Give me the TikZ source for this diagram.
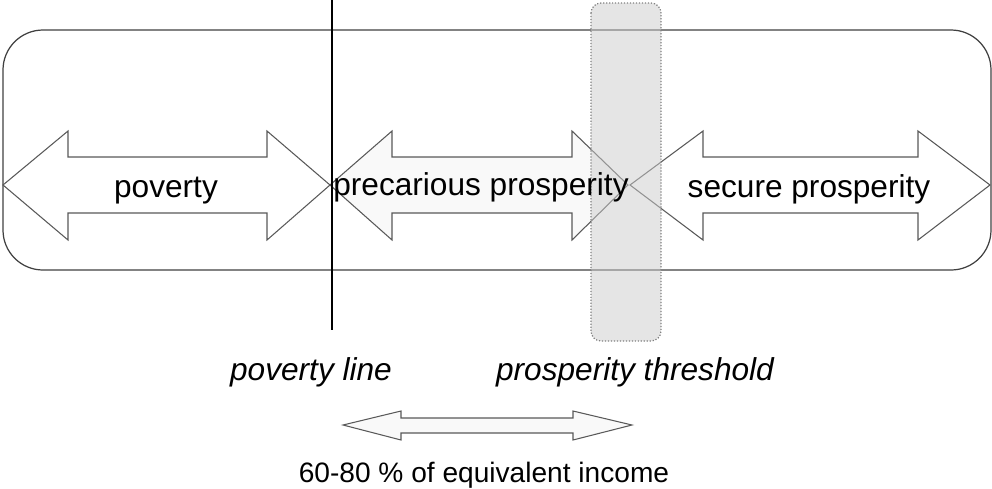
\documentclass[tikz,border=0pt]{standalone}
\usepackage{fontspec}
\setmainfont{Liberation Sans}
\usetikzlibrary{calc}

\tikzset{
  band/.style={draw=black!75,line width=0.7pt},
  bigarrow/.style={draw=black!65,line width=0.6pt,line join=miter},
  label/.style={anchor=base,inner sep=0pt,font=\fontsize{18}{20}\selectfont},
}

\begin{document}
\begin{tikzpicture}[x=0.02cm,y=-0.02cm]
\useasboundingbox (0,0) rectangle (992,488);
\draw[band,rounded corners=0.8cm] (3,30) rectangle (991,270);
\draw[bigarrow,fill=white] (3,185) -- (68,131) -- (68,157) -- (267,157) -- (267,131) -- (330,185)
  -- (267,240) -- (267,213) -- (68,213) -- (68,240) -- cycle;
\draw[bigarrow,fill=gray!5] (330,185) -- (392,131) -- (392,157) -- (572,157) -- (572,131) -- (628,185)
  -- (572,240) -- (572,213) -- (392,213) -- (392,240) -- cycle;
\draw[bigarrow,fill=white] (630,185) -- (703,131) -- (703,157) -- (918,157) -- (918,131) -- (990,185)
  -- (918,240) -- (918,213) -- (703,213) -- (703,240) -- cycle;
\draw[bigarrow,fill=gray!5] (343,425) -- (401,411) -- (401,418) -- (573,418) -- (573,411) -- (632,425)
  -- (573,440) -- (573,433) -- (401,433) -- (401,440) -- cycle;
\draw[black,line width=0.7pt] (332,0) -- (332,330);
\draw[gray,densely dotted,line width=0.7pt,fill=gray!40,fill opacity=0.5,rounded corners=0.2cm] (591,3) rectangle (661,341);
\node[label] (poor) at (166,197) {poverty};
\node[label] (precarious) at (481,195) {precarious prosperity};
\node[label] (secure) at (809,197) {secure prosperity};
%\node at (332,350) {line};
\node[label,font=\fontsize{18}{20}\selectfont\itshape] (povline) at (311,380) {poverty line};
\node[label,font=\fontsize{18}{20}\selectfont\itshape] (threshold) at (635,380) {prosperity threshold};
\node[label,font=\fontsize{16}{18}\selectfont] (income) at (484,482) {60-80 \% of equivalent income};
\end{tikzpicture}
\end{document}
